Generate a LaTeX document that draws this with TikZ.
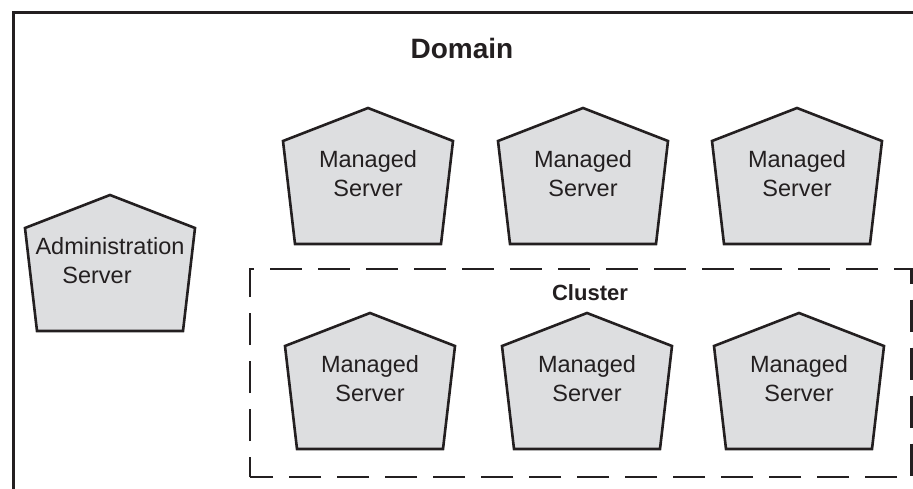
\documentclass[tikz,border=0pt]{standalone}
\usepackage{fontspec}
\setmainfont{Liberation Sans}
\definecolor{ink}{RGB}{35,31,32}
\definecolor{srvfill}{RGB}{221,222,224}
\tikzset{
  x=1pt, y=-1pt,
  outerline/.style={draw=ink, line width=3pt},
  clusterline/.style={draw=ink, line width=2.6pt, dash pattern=on 32pt off 16pt, dash phase=12pt},
  pentline/.style={draw=ink, fill=srvfill, line width=2.6pt, line join=miter},
  server/.pic={\path[pentline] (0,0) -- (85,33) -- (73,136) -- (-73,136) -- (-85,33) -- cycle;},
  srvtext/.style={font=\fontsize{23.5}{29}\selectfont, align=center, text=ink, inner sep=0pt},
  title/.style={font=\bfseries\fontsize{28}{34}\selectfont, text=ink, inner sep=0pt, anchor=base},
  subtitle/.style={font=\bfseries\fontsize{22}{26}\selectfont, text=ink, inner sep=0pt, anchor=base}
}
\begin{document}
\begin{tikzpicture}
\useasboundingbox (0,0) rectangle (913,489);
% domain frame (right and bottom edges lie outside the picture)
\coordinate (dbl) at (13.5,489);
\coordinate (dtl) at (13.5,12.5);
\coordinate (dtr) at (913,12.5);
\draw[outerline] (dbl) -- (dtl) -- (dtr);
\node[title] (domain) at (462,59) {Domain};
% cluster frame
\coordinate (cbl) at (250,477);
\coordinate (ctl) at (250,269);
\coordinate (ctr) at (911.5,269);
\coordinate (cbr) at (911.5,477);
\draw[clusterline] (cbl) -- (ctl) -- (ctr) -- (cbr) -- cycle;
\node[subtitle] (cluster) at (590,300) {Cluster};
% administration server
\pic at (110,195) {server};
\node[srvtext] (admin) at (110,261) {Administration\\\hspace*{-26pt}Server};
% managed servers, top row
\pic at (368,108) {server};
\node[srvtext] (m1) at (368,174) {Managed\\Server};
\pic at (583,108) {server};
\node[srvtext] (m2) at (583,174) {Managed\\Server};
\pic at (797,108) {server};
\node[srvtext] (m3) at (797,174) {Managed\\Server};
% managed servers in the cluster
\pic at (370,313) {server};
\node[srvtext] (c1) at (370,379) {Managed\\Server};
\pic at (587,313) {server};
\node[srvtext] (c2) at (587,379) {Managed\\Server};
\pic at (799,313) {server};
\node[srvtext] (c3) at (799,379) {Managed\\Server};
\end{tikzpicture}
\end{document}
